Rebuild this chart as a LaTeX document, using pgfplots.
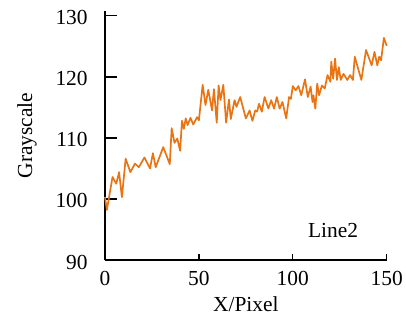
\documentclass[border=0pt]{standalone}
\usepackage{fontspec}
\setmainfont{Liberation Serif}
\usepackage{pgfplots}
\pgfplotsset{compat=1.18}
\definecolor{lineorange}{RGB}{234,116,20}
\begin{document}
\fontsize{21.5}{25}\selectfont
\begin{tikzpicture}
\begin{axis}[
  at={(0,0)}, anchor=south west,
  scale only axis, width=281.7bp, height=249bp,
  xmin=0, xmax=150, ymin=90, ymax=130.8,
  axis x line*=bottom, axis y line*=left,
  axis line style={line width=1.2bp, black, -},
  xtick={0,50,100,150}, ytick={90,100,110,120,130},
  tick align=inside,
  major tick length=11.7bp,
  xtick style={/pgfplots/major tick length=6bp, line width=1.2bp, black},
  ytick style={line width=1.2bp, black},
  /pgf/number format/assume math mode=true,
  tick label style={font=\fontsize{21.5}{25}\selectfont},
  xticklabel style={yshift=-4bp},
  yticklabel style={xshift=-10bp, yshift=-2bp},
  xlabel={X/Pixel}, ylabel={Grayscale},
  label style={font=\fontsize{21.5}{25}\selectfont},
  xlabel style={at={(axis description cs:0.5,-0.118)}, anchor=north},
  ylabel style={at={(axis description cs:-0.2165,0.5)}, anchor=south},
  clip=false,
]
\addplot[color=lineorange, line width=1.7bp, line join=round] coordinates {
(0,100.3) (1,98.2) (4,103.6) (6,102.5) (7.5,104.4) (9,100.3) (11,106.6)
(13.5,104.4) (16,105.8) (18,105.2) (21,106.8) (24,105.0) (25.5,107.5)
(27,105.2) (31,108.5) (34.5,105.7) (35.5,111.6) (37,109.2) (38.5,109.9)
(40,107.9) (41,112.8) (42,111.5) (43,113.2) (44,112.1) (45.5,113.3)
(47,112.2) (49,113.4) (50,112.9) (52,118.7) (53.5,115.4) (55,117.9)
(57,114.5) (58,118.0) (59.5,112.5) (60.5,118.6) (61.5,116.2) (63,118.7)
(64.5,112.5) (66,116.3) (67,113.1) (69,116.2) (70,115.1) (72,116.7)
(75,113.2) (77,114.5) (78.5,112.8) (80,114.5) (81,114.3) (82,115.6)
(83.5,114.3) (85,116.7) (87,114.8) (88.5,116.2) (90,114.8) (91.5,116.7)
(93,114.8) (94.5,115.9) (96.5,113.2) (98,116.7) (99,116.4) (100,118.5)
(101.5,117.8) (103,118.5) (104.5,117.0) (106.5,119.6) (108,116.7)
(109.5,118.4) (110.5,115.9) (111,117.0) (112,114.8) (113,118.9) (114,117.0)
(115.5,118.6) (117,118.1) (118.5,120.3) (120,119.2) (120.5,122.5)
(121.5,119.7) (122.5,123.0) (123.5,119.5) (124.5,121.6) (125.5,119.5)
(127,120.5) (129,119.5) (130.5,120.3) (132,119.5) (133,123.3) (136.5,119.5)
(139,124.4) (142,121.9) (143.5,124.1) (145,121.9) (146,123.3) (147,122.7)
(148.5,126.4) (150,125.1)
};
\node[font=\fontsize{21.5}{25}\selectfont] at (axis cs:121.4,94.9) {Line2};
\end{axis}
\pgfresetboundingbox
\path[use as bounding box] (-105bp,-61bp) rectangle (301bp,260bp);
\end{tikzpicture}
\end{document}
